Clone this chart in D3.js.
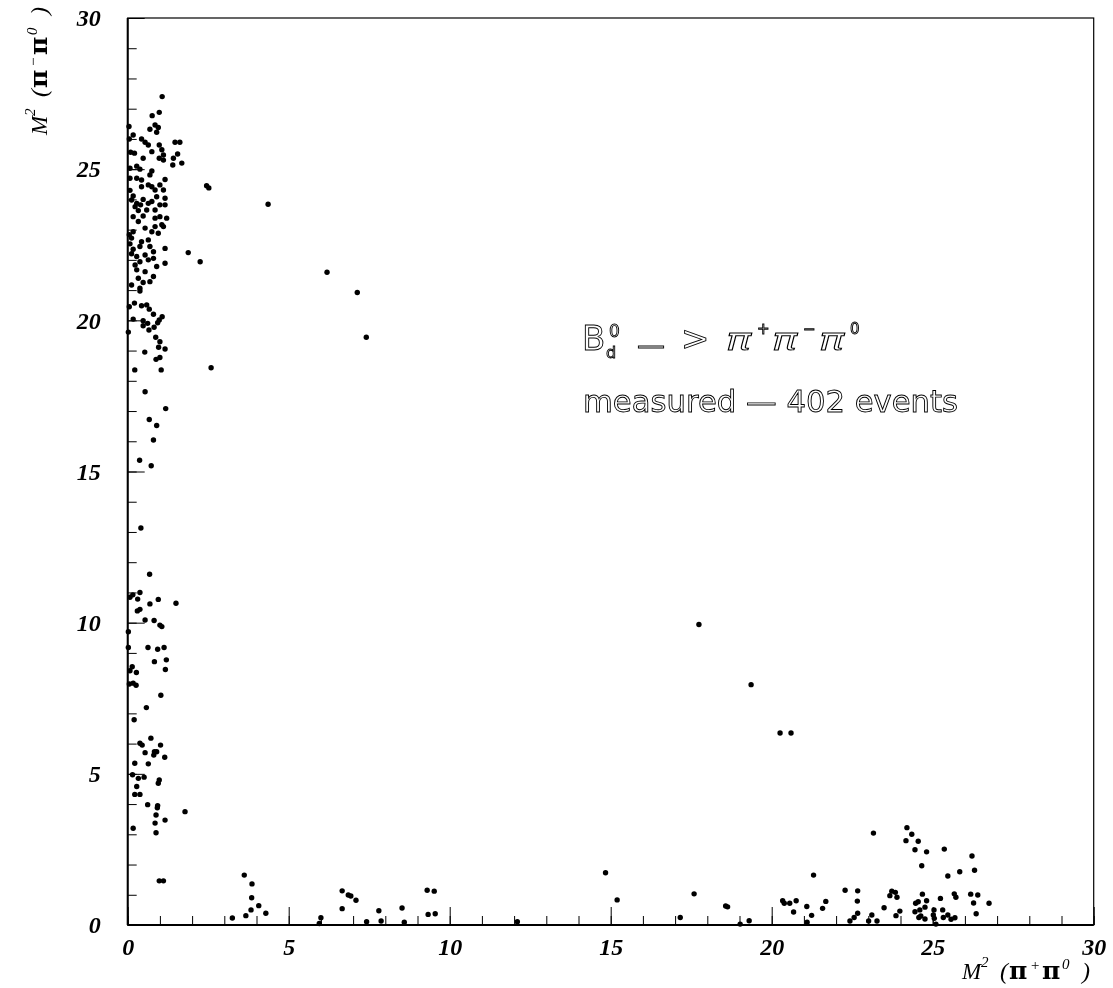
<!DOCTYPE html>
<html>
<head>
<meta charset="utf-8">
<script src="https://cdn.jsdelivr.net/npm/d3@7"></script>
<style>
    body { margin: 0; background: #fff; }
    svg { will-change: transform; }
    .axis-label text { font-family: "Liberation Serif", "Times New Roman", serif; font-weight: bold; font-style: italic; font-size: 24px; fill: #000; }
    .axis-label line, .axis-minor line { stroke: #000; stroke-width: 1; }
    .ann { fill: none; stroke: #000; stroke-width: 0.9; font-family: "DejaVu Sans", sans-serif; }
</style>
</head>
<body>
<div id="chart"></div>
<script>
// tick values / labels
const majorTicks = [0, 5, 10, 15, 20, 25, 30];
const minorTicks = d3.range(0, 31);

// events: [M2(pi+ pi0), M2(pi- pi0)]
const clusterTop = [
    [1.07,27.40],[0.76,26.77],[0.98,26.88],[0.04,26.41],[0.17,26.13],[0.69,26.32],[0.85,26.46],[0.95,26.38],[0.90,26.22],[0.05,26.00],
    [0.43,26.00],[0.54,25.89],[1.47,25.89],[1.62,25.89],[0.64,25.80],[0.98,25.80],[0.75,25.58],[1.06,25.64],[0.09,25.56],[0.21,25.53],
    [1.55,25.50],[1.11,25.47],[1.42,25.36],[0.98,25.36],[0.48,25.36],[1.11,25.30],[1.68,25.20],[1.40,25.14],[0.07,25.03],[0.28,25.10],
    [0.38,25.00],[0.75,24.94],[0.07,24.70],[0.28,24.70],[0.43,24.64],[0.69,24.81],[1.16,24.66],[1.00,24.48],[0.43,24.42],[2.45,24.45],
    [2.52,24.38],[0.07,24.30],[0.64,24.48],[0.75,24.42],[0.85,24.31],[1.11,24.31],[0.17,24.11],[0.90,24.09],[1.16,24.04],[0.48,24.00],
    [0.12,23.98],[0.28,23.87],[0.64,23.87],[0.75,23.93],[0.23,23.76],[0.40,23.82],[1.00,23.82],[1.16,23.82],[0.33,23.63],[0.59,23.65],
    [0.85,23.65],[0.17,23.43],[0.48,23.45],[1.00,23.43],[1.21,23.38],[0.33,23.27],[0.85,23.38],[1.06,23.16],[0.85,23.10],[0.54,23.05],
    [0.17,22.93],[1.11,23.10],[0.05,22.83],[0.75,22.93],[0.95,22.88],[0.12,22.72],[0.43,22.60],[0.64,22.66],[0.07,22.53],[0.17,22.35],
    [0.38,22.44],[0.69,22.44],[0.80,22.27],[1.16,22.38],[1.88,22.24],[2.25,21.94],[0.12,22.20],[0.28,22.11],[0.54,22.16],[0.38,21.94],
    [0.64,22.00],[0.80,22.05],[1.16,21.89],[0.23,21.83],[0.90,21.78],[0.28,21.67],[0.54,21.61],[0.80,21.45],[0.33,21.39],[0.48,21.25],
    [0.69,21.28],[0.12,21.17],[0.38,21.06]
];

const clusterMid = [
    [0.38,20.97],[0.21,20.57],[0.05,20.45],[0.43,20.48],[0.59,20.51],[0.67,20.37],[0.80,20.20],[1.07,20.12],[0.98,20.01],[0.17,20.04],
    [0.48,19.99],[0.62,19.90],[0.93,19.92],[0.48,19.82],[0.82,19.77],[0.66,19.68],[0.02,19.61],[0.87,19.44],[1.00,19.29],[0.96,19.11],
    [1.16,19.05],[0.53,18.95],[1.00,18.77],[0.88,18.71],[2.59,18.43],[0.22,18.36],[1.04,18.36],[0.54,17.64],[1.18,17.08],[0.67,16.72],
    [0.90,16.52],[0.80,16.04],[0.37,15.37],[0.73,15.19],[0.41,13.13]
];

const clusterLow = [
    [0.68,11.60],[0.38,11.00],[0.07,10.84],[0.16,10.92],[0.31,10.78],[0.95,10.77],[0.69,10.62],[1.50,10.64],[0.38,10.44],[0.30,10.39],
    [0.54,10.09],[0.82,10.07],[1.00,9.92],[1.06,9.87],[0.02,9.70],[0.02,9.18],[0.63,9.18],[0.93,9.12],[1.13,9.18],[1.20,8.77],
    [0.83,8.71],[1.17,8.45],[0.14,8.54],[0.07,8.41],[0.27,8.35],[0.05,7.97],[0.17,8.00],[0.26,7.93],[1.03,7.60],[0.58,7.19],
    [0.20,6.79],[0.72,6.18],[0.38,6.01],[0.45,5.95],[1.02,5.95],[0.54,5.70],[0.83,5.73],[0.90,5.73],[0.81,5.62],[1.15,5.55],
    [0.22,5.35],[0.64,5.33],[0.15,4.97],[0.33,4.85],[0.51,4.89],[0.98,4.80],[0.95,4.69],[0.28,4.58],[0.22,4.32],[0.38,4.32],
    [0.62,3.98],[0.93,3.95],[0.92,3.88],[1.78,3.75],[0.88,3.64],[1.16,3.47],[0.85,3.37],[0.17,3.20],[0.88,3.05],[0.98,1.46],
    [1.11,1.46]
];

const diagonal = [
    [4.36,23.84],[6.19,21.59],[7.13,20.92],[7.41,19.44],[17.74,9.94],[19.36,7.95],[20.26,6.35],[20.60,6.35]
];

const lowBand = [
    [3.62,1.65],[3.86,1.36],[3.85,0.90],[4.07,0.64],[3.83,0.50],[4.29,0.39],[3.67,0.31],[3.25,0.23],
    [6.00,0.24],[5.95,0.05],[6.66,1.13],[6.85,0.99],[6.93,0.96],[7.09,0.82],[6.66,0.54],[7.42,0.11],[7.80,0.47],[7.87,0.13],
    [8.52,0.56],[8.59,0.09],[9.30,1.15],[9.52,1.12],[9.33,0.35],[9.55,0.37],[12.10,0.11],
    [14.84,1.73],[15.20,0.83],[17.16,0.25],[17.59,1.03],[18.57,0.63],[18.63,0.60],[19.02,0.03],[19.30,0.14],[20.34,0.80],[20.39,0.72],
    [20.56,0.72],[20.76,0.80],[20.68,0.43],[21.09,0.61],[21.24,0.32],[21.10,0.09],[21.30,1.65],[21.58,0.55],[21.68,0.78],[22.28,1.15],
    [22.67,1.13],[22.66,0.79],[22.67,0.39],[22.56,0.25],[22.43,0.13]
];

const rightCluster = [
    [23.16,3.04],[23.01,0.13],[23.11,0.33],[23.27,0.13],[23.49,0.57],[23.86,0.31],[23.98,0.46],[23.67,0.97],[23.73,1.12],[23.84,1.08],
    [23.89,0.92],[24.20,3.22],[24.35,3.00],[24.17,2.79],[24.55,2.77],[24.45,2.49],[24.81,2.42],[24.66,1.96],[25.36,2.51],[24.68,1.02],
    [24.81,0.80],[24.47,0.72],[24.55,0.77],[24.45,0.44],[24.60,0.50],[24.76,0.59],[24.57,0.25],[24.63,0.30],[24.76,0.20],[25.04,0.50],
    [25.02,0.33],[25.05,0.22],[25.10,0.03],[25.24,0.88],[25.31,0.50],[25.33,0.25],[25.47,0.33],[25.57,0.19],[25.69,0.24],[25.47,1.62],
    [25.84,1.76],[25.67,1.03],[25.72,0.92],[26.22,2.28],[26.30,1.81],[26.18,1.02],[26.40,0.99],[26.27,0.73],[26.35,0.37],[26.75,0.72]
];

const events = [].concat(clusterTop, clusterMid, clusterLow, diagonal, lowBand, rightCluster);

const W = 1113, H = 988;
const plot = { left: 127.7, right: 1093.7, top: 18, bottom: 925 };

const svg = d3.select('#chart')
    .append('svg')
    .attr('width', W)
    .attr('height', H);

const x = d3.scaleLinear().domain([0, 30]).range([plot.left, plot.right]);
const y = d3.scaleLinear().domain([0, 30]).range([plot.bottom, plot.top]);

// frame
svg.append('rect')
    .attr('x', plot.left).attr('y', plot.top)
    .attr('width', plot.right - plot.left)
    .attr('height', plot.bottom - plot.top)
    .attr('fill', 'none')
    .attr('stroke', '#000')
    .attr('stroke-width', 1.2);

// minor ticks
svg.append('g')
    .attr('class', 'axis-minor')
    .attr('transform', `translate(0,${plot.bottom})`)
    .call(d3.axisBottom(x).tickValues(minorTicks).tickSize(-9).tickFormat(''))
    .call(g => g.select('.domain').remove());

svg.append('g')
    .attr('class', 'axis-minor')
    .attr('transform', `translate(${plot.left},0)`)
    .call(d3.axisLeft(y).tickValues(minorTicks).tickSize(-9).tickFormat(''))
    .call(g => g.select('.domain').remove());

// major ticks + labels
svg.append('g')
    .attr('class', 'axis-label')
    .attr('transform', `translate(0,${plot.bottom})`)
    .call(d3.axisBottom(x).tickValues(majorTicks).tickSize(-18).tickPadding(13).tickFormat(d3.format('d')))
    .call(g => g.select('.domain').remove());

svg.append('g')
    .attr('class', 'axis-label')
    .attr('transform', `translate(${plot.left},0)`)
    .call(d3.axisLeft(y).tickValues(majorTicks).tickSize(-17).tickPadding(27).tickFormat(d3.format('d')))
    .call(g => g.select('.domain').remove());

// heavier axis lines
svg.append('line')
    .attr('x1', plot.left).attr('x2', plot.right)
    .attr('y1', plot.bottom).attr('y2', plot.bottom)
    .attr('stroke', '#000').attr('stroke-width', 2);
svg.append('line')
    .attr('x1', plot.left).attr('x2', plot.left)
    .attr('y1', plot.top).attr('y2', plot.bottom)
    .attr('stroke', '#000').attr('stroke-width', 2);

// points
svg.selectAll('.evt')
    .data(events)
    .enter()
    .append('circle')
    .attr('class', 'evt')
    .attr('cx', d => x(d[0]))
    .attr('cy', d => y(d[1]))
    .attr('r', 2.7)
    .attr('fill', '#000');

// axis titles: M^2 (pi pi^0 )
function axisTitle(g, sign) {
    const t = g.append('text')
        .attr('font-family', '"Liberation Serif", serif')
        .attr('font-size', 24)
        .attr('fill', '#000');
    const it = (s, dx, dy, size) => t.append('tspan').attr('x', dx).attr('dy', dy)
        .attr('font-style', 'italic').attr('font-size', size).text(s);
    const pi = (dx, dy) => t.append('tspan').attr('x', dx).attr('dy', dy)
        .attr('font-family', '"DejaVu Serif", serif').attr('font-weight', 'bold')
        .attr('font-size', 25).text('\u03c0');
    it('M', -2, 0, 23);
    it('2', 17, -12, 15);
    it('(', 36, 12, 24);
    pi(45, 0);
    it(sign, 66, -9, 15);
    pi(78, 9);
    it('0', 98, -10, 15);
    it(')', 118, 10, 24);
}

axisTitle(svg.append('g').attr('transform', 'translate(964,979)'), '+');
axisTitle(svg.append('g').attr('transform', 'translate(47,133) rotate(-90)'), '\u2212');

// annotation
const ann = svg.append('g').attr('class', 'ann');
ann.append('text').attr('x', 582).attr('y', 350).attr('font-size', 34).text('B');
ann.append('text').attr('x', 606).attr('y', 358).attr('font-size', 16).text('d');
ann.append('text').attr('x', 609).attr('y', 337).attr('font-size', 17).text('0');
ann.append('text').attr('x', 637).attr('y', 355).attr('font-size', 28).text('\u2014');
ann.append('text').attr('x', 681).attr('y', 350).attr('font-size', 34).text('>');
[[726, '+'], [772, '\u2212'], [819, '0']].forEach(([px, sup]) => {
    ann.append('text')
        .attr('transform', `translate(${px},350) scale(1.4,1)`)
        .attr('font-size', 30)
        .attr('font-style', 'italic')
        .text('\u03c0');
    ann.append('text')
        .attr('x', px + 31).attr('y', 334)
        .attr('font-size', 15)
        .text(sup);
});
ann.append('text')
    .attr('x', 583).attr('y', 412)
    .attr('font-size', 30)
    .attr('textLength', 375)
    .attr('lengthAdjust', 'spacingAndGlyphs')
    .text('measured  \u2014 402 events');
</script>
</body>
</html>
